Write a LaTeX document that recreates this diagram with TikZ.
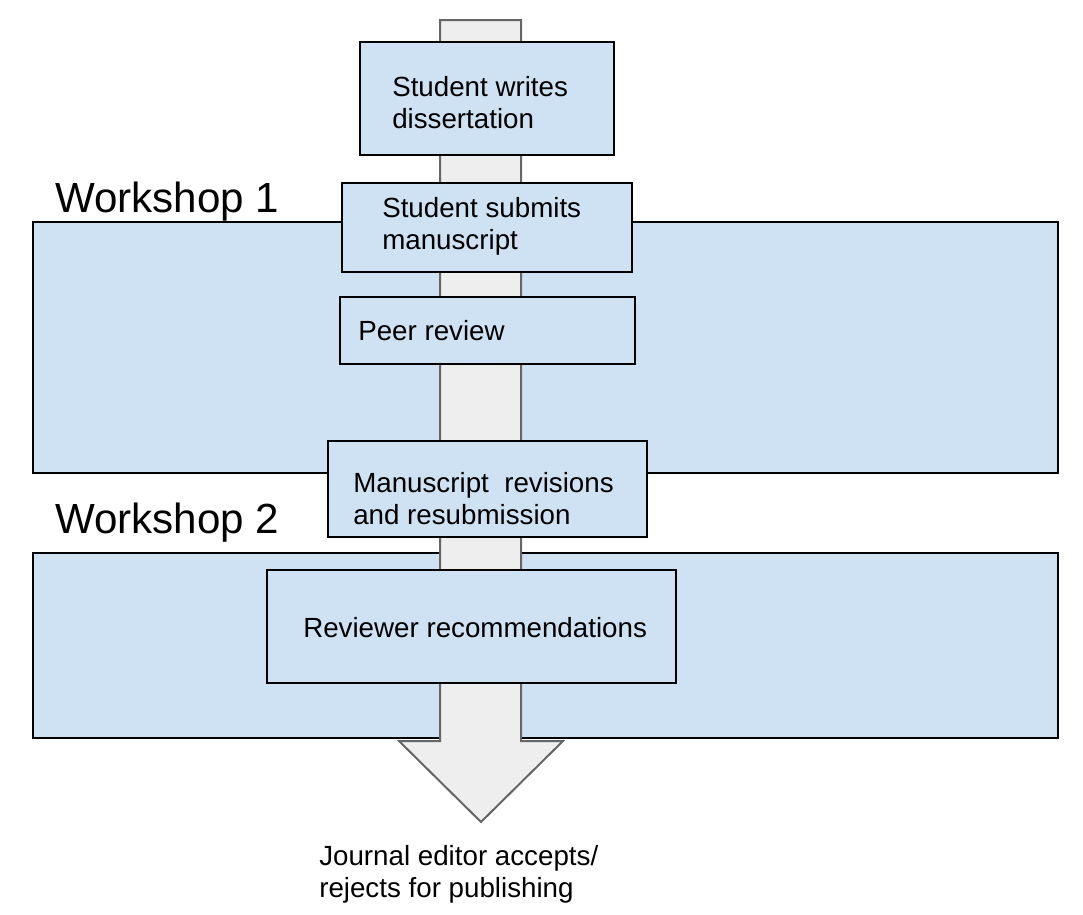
\documentclass[tikz,border=0pt]{standalone}
\usepackage{fontspec}
\setmainfont{Liberation Sans}
\usetikzlibrary{fit}
\definecolor{boxblue}{HTML}{CFE2F3}
\definecolor{arrowgray}{HTML}{EEEEEE}
\definecolor{arrowline}{HTML}{666666}
\begin{document}
\begin{tikzpicture}[x=0.75pt,y=-0.75pt,
  bigbox/.style={draw=black,fill=boxblue,line width=1.5pt,inner sep=0pt},
  stepbox/.style={draw=black,fill=boxblue,line width=1.5pt,inner sep=0pt},
  boxtext/.style={anchor=base west,inner sep=0pt,align=left,
    font=\fontsize{20.8}{23.6}\selectfont},
  wstext/.style={anchor=base west,inner sep=0pt,
    font=\fontsize{31.6}{36}\selectfont},
  blockarrow/.style={draw=arrowline,fill=arrowgray,line width=1.5pt,line join=miter}]
\useasboundingbox (0,0) rectangle (1083,915);
% workshop areas
\node[bigbox,fit={(33,222)(1058,473)}] (ws1) {};
\node[bigbox,fit={(33,553)(1058,738)}] (ws2) {};
\node[wstext] (ws1label) at (55,212) {Workshop 1};
\node[wstext] (ws2label) at (55,533) {Workshop 2};
% block arrow
\coordinate (atop) at (481,20);
\coordinate (atip) at (481,822);
\draw[blockarrow] (440,20) -- (521,20) -- (521,741) -- (563,741) -- (atip)
  -- (399,741) -- (440,741) -- cycle;
% steps
\node[stepbox,fit={(360,42)(614,155)}] (s1) {};
\node[boxtext] (t1) at (392,128) {Student writes\\dissertation};
\node[stepbox,fit={(342,183)(632,272)}] (s2) {};
\node[boxtext] (t2) at (382,249) {Student submits\\manuscript};
\node[stepbox,fit={(340,297)(635,364)}] (s3) {};
\node[boxtext] (t3) at (358,340) {Peer review};
\node[stepbox,fit={(328,441)(647,537)}] (s4) {};
\node[boxtext] (t4) at (353,524) {Manuscript~ revisions\\and resubmission};
\node[stepbox,fit={(267,570)(676,683)}] (s5) {};
\node[boxtext] (t5) at (303,637) {Reviewer recommendations};
\node[boxtext,font=\fontsize{20.8}{24}\selectfont] (t6) at (319,897) {Journal editor accepts/\\rejects for publishing};
\end{tikzpicture}
\end{document}
